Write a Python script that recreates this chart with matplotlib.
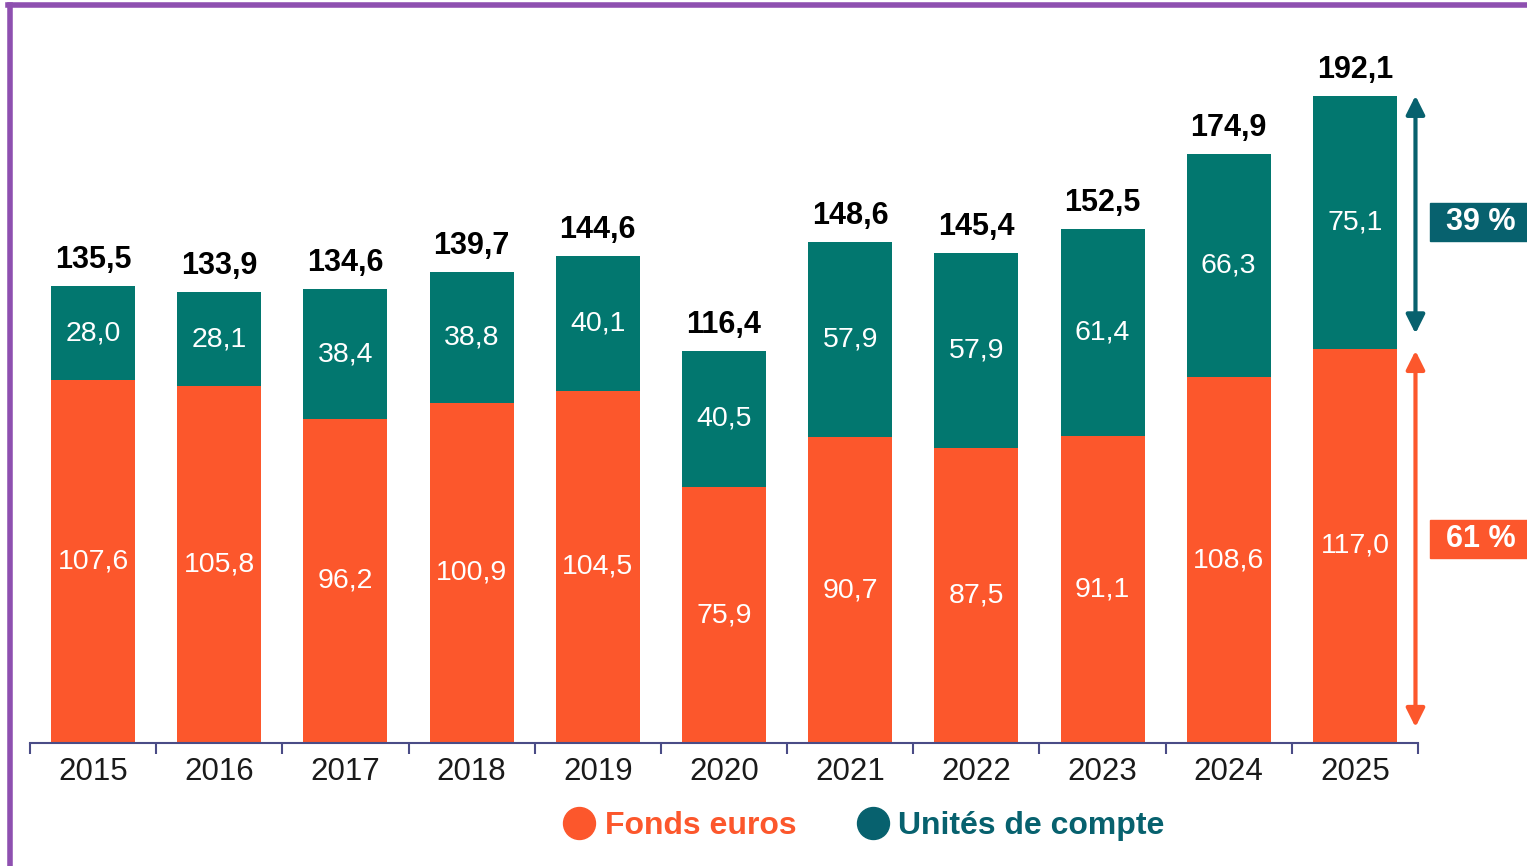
import matplotlib
matplotlib.use("Agg")
import matplotlib.pyplot as plt
from matplotlib.lines import Line2D
from matplotlib.patches import Rectangle

plt.rcParams["font.family"] = ["Liberation Sans", "DejaVu Sans"]

# data (milliards d'euros)
years = ["2015", "2016", "2017", "2018", "2019", "2020", "2021", "2022", "2023", "2024", "2025"]
fonds_euros = [107.6, 105.8, 96.2, 100.9, 104.5, 75.9, 90.7, 87.5, 91.1, 108.6, 117.0]
unites_compte = [28.0, 28.1, 38.4, 38.8, 40.1, 40.5, 57.9, 57.9, 61.4, 66.3, 75.1]
totals = [135.5, 133.9, 134.6, 139.7, 144.6, 116.4, 148.6, 145.4, 152.5, 174.9, 192.1]
share_labels = ["39 %", "61 %"]
legend_labels = ["Fonds euros", "Unités de compte"]

ORANGE = "#FC572C"
TEAL_BAR = "#02776F"
TEAL_DARK = "#07616E"
PURPLE = "#8E50B0"
AXIS_COL = "#4A4C86"

W, H = 1527, 866
fig = plt.figure(figsize=(W / 100, H / 100), dpi=100)
ax = fig.add_axes([30 / W, (H - 743) / H, 1388 / W, 724.5 / H])

x = list(range(len(years)))
ax.bar(x, fonds_euros, width=0.666, color=ORANGE)
ax.bar(x, unites_compte, width=0.666, bottom=fonds_euros, color=TEAL_BAR)


def fr(v):
    return f"{v:.1f}".replace(".", ",")


for i in x:
    ax.text(i, fonds_euros[i] / 2, fr(fonds_euros[i]), ha="center", va="center",
            color="white", fontsize=20.5)
    ax.text(i, fonds_euros[i] + unites_compte[i] / 2, fr(unites_compte[i]),
            ha="center", va="center", color="white", fontsize=20.5)
    ax.annotate(fr(totals[i]), (i, fonds_euros[i] + unites_compte[i]),
                xytext=(0, 8), textcoords="offset points", ha="center", va="bottom",
                fontsize=22, fontweight="bold", color="black")

ax.set_xlim(-0.5, len(years) - 0.5)
ax.set_ylim(0, 215)
ax.set_yticks([])
for s in ["top", "left", "right"]:
    ax.spines[s].set_visible(False)
ax.spines["bottom"].set_color(AXIS_COL)
ax.spines["bottom"].set_linewidth(1.5)
ax.set_xticks(x)
ax.set_xticklabels(years, fontsize=22.5, color="#1a1a1a")
ax.tick_params(axis="x", which="major", length=0, pad=10)
ax.set_xticks([i - 0.5 for i in range(len(years) + 1)], minor=True)
ax.tick_params(axis="x", which="minor", length=8, width=1.5, color=AXIS_COL, direction="out")

# share arrows on the last bar
last = len(years) - 1
ax_x = last + 0.48
top_last = fonds_euros[last] + unites_compte[last]
ax.annotate("", xy=(ax_x, top_last), xytext=(ax_x, fonds_euros[last] + 4.5),
            arrowprops=dict(arrowstyle="<|-|>", color=TEAL_DARK, lw=3, mutation_scale=28,
                            shrinkA=0, shrinkB=0), annotation_clip=False)
ax.annotate("", xy=(ax_x, fonds_euros[last] - 0.6), xytext=(ax_x, 4.7),
            arrowprops=dict(arrowstyle="<|-|>", color=ORANGE, lw=3, mutation_scale=28,
                            shrinkA=0, shrinkB=0), annotation_clip=False)

# percentage boxes
mids = [(fonds_euros[last] + top_last) / 2, fonds_euros[last] / 2 + 2]
box_cols = [TEAL_DARK, ORANGE]
for lab, ym, col in zip(share_labels, mids, box_cols):
    yf = ax.transData.transform((0, ym))[1] / H
    fig.patches.append(Rectangle((1430 / W, yf - 19 / H), 120 / W, 38 / H,
                                 transform=fig.transFigure, color=col, zorder=3))
    fig.text(1481 / W, yf, lab, ha="center", va="center", color="white",
             fontsize=22, fontweight="bold", zorder=4)

# legend
handles = [Line2D([], [], marker="o", ls="", markersize=23, color=c)
           for c in [ORANGE, TEAL_DARK]]
fig.legend(handles, legend_labels, loc="center", bbox_to_anchor=(864 / W, 1 - 826 / H),
           ncol=2, frameon=False, prop=dict(size=23, weight="bold"),
           labelcolor=[ORANGE, TEAL_DARK], handletextpad=0.3, columnspacing=1.9,
           handlelength=1.0)

# purple frame
fig.add_artist(Line2D([8 / W, 1], [1 - 5 / H, 1 - 5 / H], color=PURPLE, lw=4,
                      transform=fig.transFigure))
fig.add_artist(Line2D([10 / W, 10 / W], [0, 1 - 5 / H], color=PURPLE, lw=4,
                      transform=fig.transFigure))

fig.savefig("out.png", dpi=100, facecolor="white")
